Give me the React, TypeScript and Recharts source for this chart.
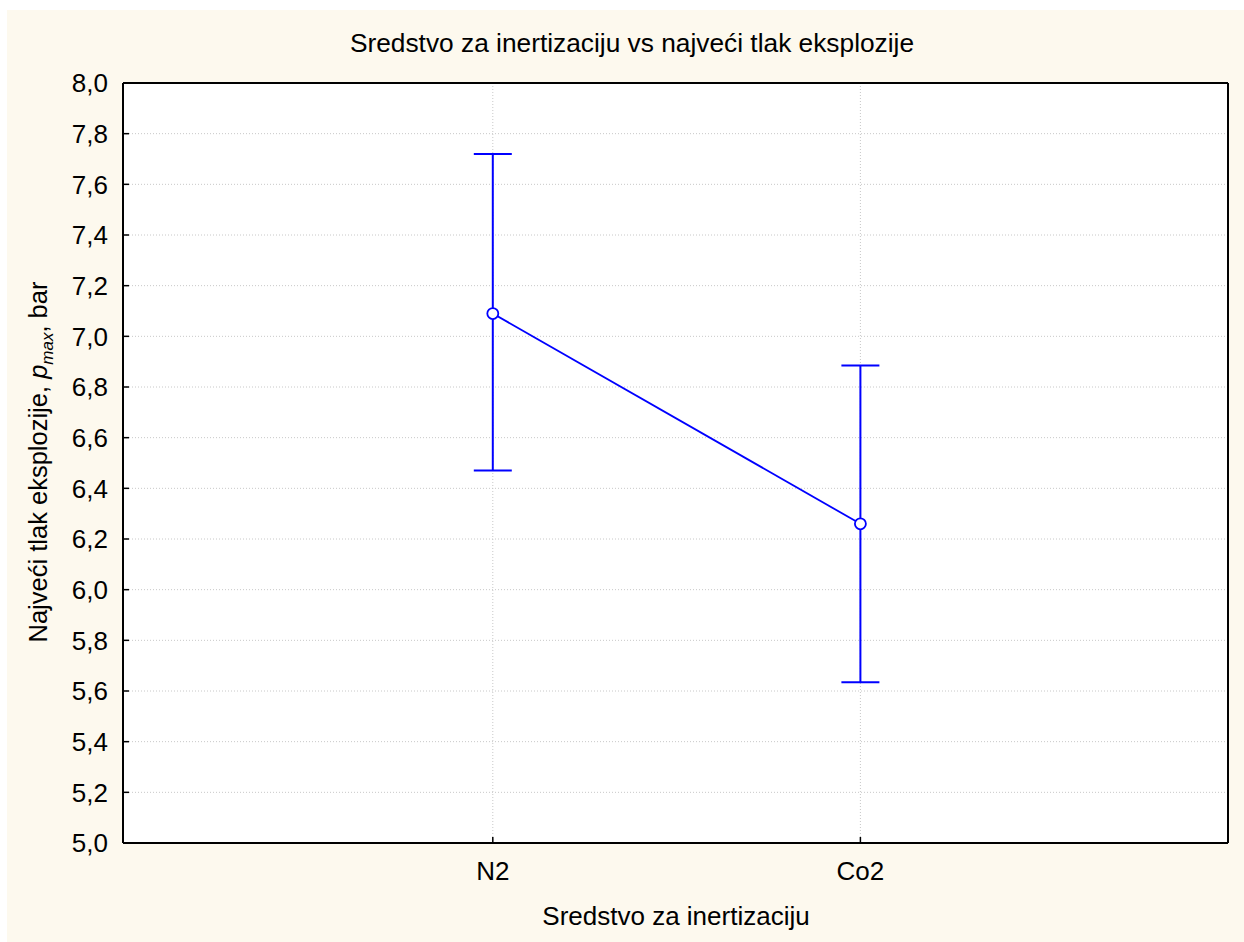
import { CartesianGrid, ErrorBar, Line, LineChart, ReferenceLine, XAxis, YAxis } from "recharts";

const categories = ["N2", "Co2"];
const means = [7.09, 6.26];
const lowerLimits = [6.47, 5.635];
const upperLimits = [7.72, 6.885];
const yTicks = [5.0, 5.2, 5.4, 5.6, 5.8, 6.0, 6.2, 6.4, 6.6, 6.8, 7.0, 7.2, 7.4, 7.6, 7.8, 8.0];
const rightTicks = [5.5, 6.0, 6.5, 7.0, 7.5];
const xTicks = [1, 2];

const FONT = '"Liberation Sans", Arial, sans-serif';
const BLUE = "#0000ff";

const data = categories.map((name, i) => ({
  x: i + 1,
  name,
  mean: means[i],
  err: [means[i] - lowerLimits[i], upperLimits[i] - means[i]],
}));

const fmt = (v: number) => v.toFixed(1).replace(".", ",");

const YLabel = () => (
  <text
    x={40}
    y={452}
    transform="rotate(-90, 40, 452)"
    textAnchor="middle"
    fontFamily={FONT}
    fontSize={25.5}
    fill="#000"
  >
    Najveći tlak eksplozije,{" "}
    <tspan fontStyle="italic">p</tspan>
    <tspan fontStyle="italic" fontSize={17} dy={6}>max</tspan>
    <tspan dy={-6}>, bar</tspan>
  </text>
);

const XLabel = () => (
  <text x={669} y={915} textAnchor="middle" fontFamily={FONT} fontSize={26} fill="#000">
    Sredstvo za inertizaciju
  </text>
);

export default function App() {
  return (
    <div
      style={{
        position: "absolute",
        left: 7,
        top: 10,
        width: 1237,
        height: 932,
        background: "#fdf9ee",
      }}
    >
      <div
        style={{
          position: "absolute",
          left: 0,
          top: 20,
          width: 1250,
          textAlign: "center",
          fontFamily: FONT,
          fontSize: 26.3,
          lineHeight: "26px",
          color: "#000",
        }}
      >
        Sredstvo za inertizaciju vs najveći tlak eksplozije
      </div>
      <LineChart
        width={1237}
        height={932}
        data={data}
        margin={{ top: 73, right: 0, bottom: 0, left: 0 }}
      >
        <CartesianGrid stroke="#c8c8c8" strokeDasharray="1 2" fill="#fff" />
        <XAxis
          dataKey="x"
          type="number"
          domain={[-0.006, 3]}
          ticks={xTicks}
          tickFormatter={(v: number) => categories[v - 1]}
          height={99}
          axisLine={{ stroke: "#000", strokeWidth: 2 }}
          tickLine={{ stroke: "#000", strokeWidth: 1.5 }}
          tickSize={-6}
          tickMargin={25}
          tick={{ fontFamily: FONT, fontSize: 26, fill: "#000" }}
          label={<XLabel />}
        />
        <YAxis
          type="number"
          domain={[5, 8]}
          ticks={yTicks}
          interval={0}
          width={116}
          tickFormatter={fmt}
          axisLine={{ stroke: "#000", strokeWidth: 2 }}
          tickLine={{ stroke: "#000", strokeWidth: 1.5 }}
          tickSize={-6}
          tickMargin={21}
          tick={{ fontFamily: FONT, fontSize: 26, fill: "#000" }}
          label={<YLabel />}
        />
        <YAxis
          yAxisId="r"
          orientation="right"
          type="number"
          domain={[5, 8]}
          ticks={rightTicks}
          interval={0}
          width={16}
          tickFormatter={() => ""}
          axisLine={{ stroke: "#000", strokeWidth: 2 }}
          tickLine={{ stroke: "#000", strokeWidth: 1.5 }}
          tickSize={-6}
        />
        <ReferenceLine y={8} stroke="#000" strokeWidth={2} />
        <Line
          dataKey="mean"
          stroke={BLUE}
          strokeWidth={1.8}
          dot={{ r: 5.5, fill: "#fff", stroke: BLUE, strokeWidth: 1.8 }}
          activeDot={false}
          isAnimationActive={false}
        >
          <ErrorBar dataKey="err" direction="y" width={19} stroke={BLUE} strokeWidth={2} />
        </Line>
      </LineChart>
    </div>
  );
}
